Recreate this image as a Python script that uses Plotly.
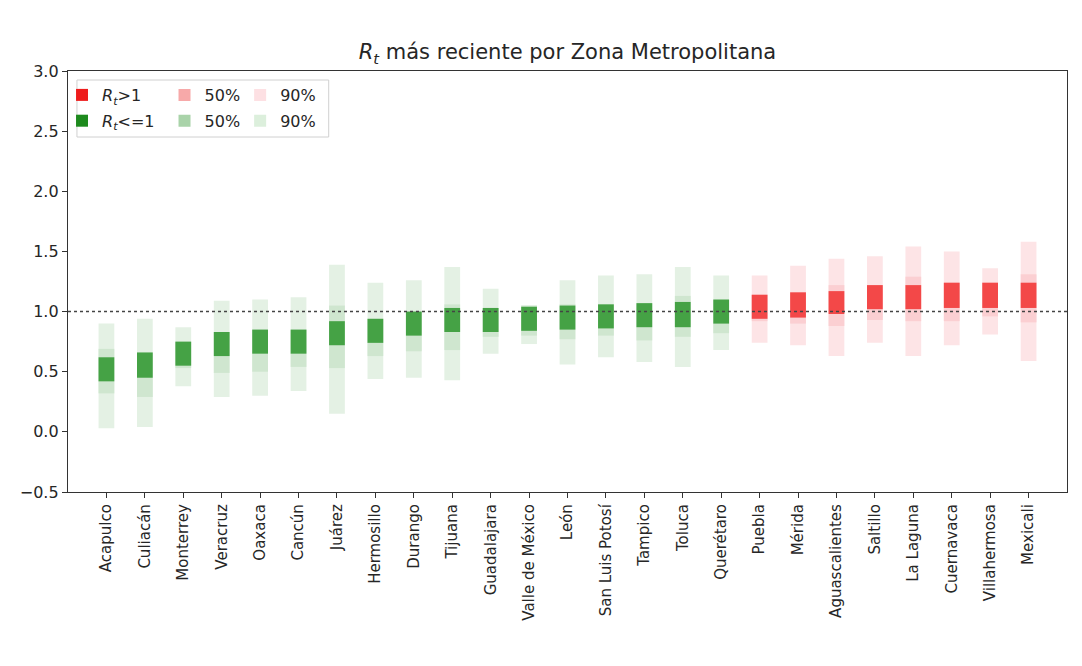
import plotly.graph_objects as go

zones = ["Acapulco", "Culiacán", "Monterrey", "Veracruz", "Oaxaca", "Cancún", "Juárez",
         "Hermosillo", "Durango", "Tijuana", "Guadalajara", "Valle de México", "León",
         "San Luis Potosí", "Tampico", "Toluca", "Querétaro", "Puebla", "Mérida",
         "Aguascalientes", "Saltillo", "La Laguna", "Cuernavaca", "Villahermosa", "Mexicali"]

lo90 = [0.03, 0.04, 0.38, 0.29, 0.30, 0.34, 0.15, 0.44, 0.45, 0.43, 0.65, 0.73, 0.56,
        0.62, 0.58, 0.54, 0.68, 0.74, 0.72, 0.63, 0.74, 0.63, 0.72, 0.81, 0.59]
hi90 = [0.90, 0.94, 0.87, 1.09, 1.10, 1.12, 1.39, 1.24, 1.26, 1.37, 1.19, 1.05, 1.26,
        1.30, 1.31, 1.37, 1.30, 1.30, 1.38, 1.44, 1.46, 1.54, 1.50, 1.36, 1.58]
lo50 = [0.32, 0.29, 0.53, 0.49, 0.50, 0.54, 0.53, 0.63, 0.67, 0.68, 0.79, 0.80, 0.77,
        0.80, 0.76, 0.79, 0.82, 0.92, 0.90, 0.88, 0.93, 0.92, 0.92, 0.96, 0.91]
hi50 = [0.69, 0.66, 0.75, 0.83, 0.85, 0.85, 1.05, 0.94, 1.00, 1.06, 1.03, 1.05, 1.06,
        1.06, 1.07, 1.13, 1.10, 1.14, 1.16, 1.22, 1.22, 1.29, 1.24, 1.24, 1.31]
lo_core = [0.42, 0.45, 0.55, 0.63, 0.65, 0.65, 0.72, 0.74, 0.80, 0.83, 0.83, 0.84, 0.85,
           0.86, 0.87, 0.87, 0.90, 0.94, 0.95, 0.98, 1.02, 1.02, 1.03, 1.03, 1.03]
hi_core = [0.62, 0.66, 0.75, 0.83, 0.85, 0.85, 0.92, 0.94, 1.00, 1.03, 1.03, 1.04, 1.05,
           1.06, 1.07, 1.08, 1.10, 1.14, 1.16, 1.17, 1.22, 1.22, 1.24, 1.24, 1.24]

y_ticks = [-0.5, 0.0, 0.5, 1.0, 1.5, 2.0, 2.5, 3.0]

# colours
C = {
    "red_core": "#f34848", "red50": "#fbcfd2", "red90": "#fde4e6",
    "green_core": "#45a245", "green50": "#cfe6cf", "green90": "#e4f1e4",
    "leg_red": "#ee1c1c", "leg_red50": "#f7a9a9", "leg_red90": "#fde0e3",
    "leg_green": "#1d8a1d", "leg_green50": "#a9d3a9", "leg_green90": "#dcefdc",
}

is_up = [(a + b) / 2 > 1 for a, b in zip(lo_core, hi_core)]

def cols(up_c, dn_c):
    return [up_c if u else dn_c for u in is_up]

W = 0.41
fig = go.Figure()
fig.add_trace(go.Bar(x=zones, y=[h - l for l, h in zip(lo90, hi90)], base=lo90, width=W,
                     marker=dict(color=cols(C["red90"], C["green90"]), line=dict(width=0)),
                     showlegend=False, hoverinfo="skip"))
fig.add_trace(go.Bar(x=zones, y=[h - l for l, h in zip(lo50, hi50)], base=lo50, width=W,
                     marker=dict(color=cols(C["red50"], C["green50"]), line=dict(width=0)),
                     showlegend=False, hoverinfo="skip"))
fig.add_trace(go.Bar(x=zones, y=[h - l for l, h in zip(lo_core, hi_core)], base=lo_core, width=W,
                     marker=dict(color=cols(C["red_core"], C["green_core"]), line=dict(width=0)),
                     showlegend=False, hoverinfo="skip"))

rt = "<i>R</i><sub><i>t</i></sub>"
legend_items = [
    ("legend", rt + "&gt;1", C["leg_red"]),
    ("legend", rt + "&lt;=1", C["leg_green"]),
    ("legend2", "50%", C["leg_red50"]),
    ("legend2", "50%", C["leg_green50"]),
    ("legend3", "90%", C["leg_red90"]),
    ("legend3", "90%", C["leg_green90"]),
]
for k, (lg, name, col) in enumerate(legend_items):
    fig.add_trace(go.Bar(x=[zones[0]], y=[0], base=[0], width=W, name=name,
                         marker=dict(color=col, line=dict(width=0)),
                         legend=lg, legendgroup="g%d" % k, showlegend=True, hoverinfo="skip"))

# reference line at Rt = 1
fig.add_shape(type="line", xref="paper", x0=0, x1=1, yref="y", y0=1, y1=1,
              line=dict(color="#444444", width=1.5, dash="dot"), layer="above")

# page has an 8px body margin: work in figure coordinates (screen - 8)
OFF = 8
FW, FH = 1082 - OFF, 666 - OFF
L, T = 63 - OFF, 71 - OFF
PW, PH = 1004, 421

def px_x(p):
    return (p - OFF - L) / PW

def px_y(p):
    return 1 - (p - OFF - T) / PH

fig.add_shape(type="rect", xref="paper", yref="paper",
              x0=px_x(72), x1=px_x(325), y0=px_y(80), y1=px_y(137),
              line=dict(color="#d0d0d0", width=1), fillcolor="rgba(255,255,255,0.8)", layer="above")

leg_font = dict(family="DejaVu Sans", size=16, color="#262626")
common = dict(orientation="v", bgcolor="rgba(0,0,0,0)", borderwidth=0, font=leg_font,
              tracegroupgap=2, yanchor="top", xanchor="left", itemclick=False)

fig.update_layout(
    width=FW, height=FH,
    margin=dict(l=L, r=FW - L - PW, t=T, b=FH - T - PH),
    paper_bgcolor="white", plot_bgcolor="white",
    barmode="overlay",
    font=dict(family="DejaVu Sans", size=14, color="#262626"),
    title=dict(text=rt + " más reciente por Zona Metropolitana", x=0.5, xref="paper",
               y=1 - (52 - OFF) / FH, yanchor="middle", xanchor="center",
               font=dict(family="DejaVu Sans", size=21, color="#262626")),
    legend=dict(x=px_x(57), y=px_y(78), **common),
    legend2=dict(x=px_x(160), y=px_y(78), **common),
    legend3=dict(x=px_x(236), y=px_y(78), **common),
    xaxis=dict(type="category", range=[-1, 25], tickangle=-90, showgrid=False,
               showline=True, mirror=True, linecolor="#333333", linewidth=1.3,
               ticks="outside", ticklen=5, tickcolor="#333333",
               tickfont=dict(family="DejaVu Sans", size=15, color="#262626")),
    yaxis=dict(range=[-0.5, 3.0], tickvals=y_ticks, tickformat=".1f", showgrid=False,
               zeroline=False, showline=True, mirror=True, linecolor="#333333", linewidth=1.3,
               ticks="outside", ticklen=5, tickcolor="#333333",
               tickfont=dict(family="DejaVu Sans", size=16, color="#262626")),
)

fig.write_html("out.html")
